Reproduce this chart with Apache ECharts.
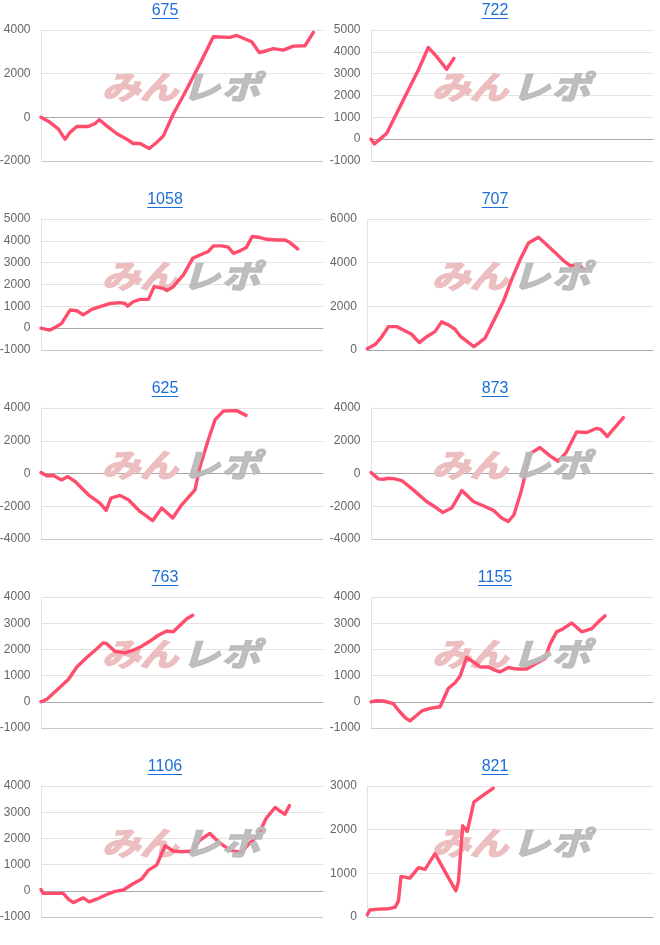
<!DOCTYPE html>
<html>
<head>
<meta charset="utf-8">
<script src="https://cdn.jsdelivr.net/npm/echarts@6.0.0/dist/echarts.min.js"></script>
<style>
html,body{margin:0;padding:0;background:#fff;}
#c{width:660px;height:945px;}
</style>
</head>
<body>
<div id="c"></div>
<script>
// ---- data ----
const xMax = 10000; // game count range of every panel
const titles = ['675','722','1058','707','625','873','763','1155','1106','821'];
const yMin  = [-2000,-1000,-1000,0,-4000,-4000,-1000,-1000,-1000,0];
const yMax  = [4000,5000,5000,6000,4000,4000,4000,4000,4000,3000];
const yStep = [2000,1000,1000,2000,2000,2000,1000,1000,1000,1000];

const d675 = [[0,0],[320,-230],[620,-540],[850,-1000],[1030,-690],[1270,-420],[1680,-420],[1920,-280],[2070,-110],[2330,-390],[2680,-740],[3040,-1000],[3270,-1200],[3510,-1200],[3840,-1430],[4100,-1150],[4340,-850],[4690,150],[5050,1000],[5640,2460],[6110,3690],[6700,3660],[6940,3750],[7470,3460],[7740,2970],[8000,3050],[8240,3150],[8590,3080],[8950,3260],[9360,3280],[9660,3890]];
const d722 = [[0,0],[120,-220],[320,0],[560,270],[730,720],[1030,1490],[1380,2400],[1680,3170],[2030,4200],[2330,3780],[2680,3200],[2940,3700]];
const d1058 = [[0,0],[300,-90],[500,30],[730,220],[1030,830],[1270,800],[1500,610],[1800,860],[2070,980],[2450,1130],[2800,1170],[2980,1130],[3070,1010],[3270,1210],[3510,1320],[3810,1320],[4010,1900],[4340,1820],[4460,1720],[4690,1900],[5050,2440],[5380,3200],[5640,3350],[5930,3510],[6110,3770],[6410,3770],[6640,3710],[6820,3430],[7060,3540],[7290,3710],[7490,4200],[7770,4150],[8000,4070],[8360,4040],[8650,4040],[8830,3920],[9100,3630]];
const d707 = [[0,60],[270,250],[470,540],[740,1070],[1030,1070],[1260,920],[1550,720],[1820,340],[2080,610],[2370,840],[2600,1290],[2840,1150],[3070,950],[3270,610],[3500,380],[3730,160],[3920,340],[4120,540],[4410,1300],[4760,2220],[5050,3220],[5350,4140],[5640,4900],[5990,5160],[6280,4820],[6570,4470],[6860,4100],[7100,3860],[7390,3910],[7590,3680]];
const d625 = [[0,60],[200,-140],[440,-120],[730,-390],[950,-190],[1210,-490],[1680,-1300],[2090,-1810],[2310,-2250],[2480,-1500],[2800,-1340],[3100,-1600],[3510,-2320],[3960,-2880],[4280,-2110],[4670,-2720],[4990,-1910],[5460,-1000],[5640,430],[5930,2050],[6170,3270],[6470,3820],[6940,3840],[7270,3550]];
const d873 = [[0,60],[260,-330],[440,-350],[620,-290],[850,-330],[1090,-430],[1500,-1000],[1970,-1710],[2330,-2110],[2540,-2380],[2860,-2110],[3220,-1040],[3630,-1710],[3980,-1970],[4340,-2250],[4630,-2720],[4870,-2930],[5070,-2520],[5340,-1000],[5640,1200],[5990,1590],[6350,1080],[6640,750],[6920,1280],[7290,2540],[7650,2500],[8000,2760],[8140,2700],[8380,2260],[8590,2700],[8950,3410]];
const d763 = [[0,0],[200,90],[500,380],[970,850],[1270,1330],[1620,1690],[1920,1970],[2210,2250],[2330,2220],[2620,1930],[2980,1870],[3270,1970],[3570,2120],[3870,2320],[4160,2540],[4460,2700],[4690,2670],[4930,2920],[5170,3170],[5380,3300]];
const d1155 = [[0,0],[200,40],[440,30],[790,-70],[970,-320],[1210,-600],[1380,-730],[1560,-570],[1800,-350],[2090,-250],[2450,-190],[2740,510],[2980,730],[3160,980],[3390,1690],[3630,1520],[3870,1330],[4160,1330],[4340,1230],[4570,1140],[4870,1310],[5170,1250],[5520,1250],[5820,1440],[6170,1650],[6350,2200],[6580,2670],[6820,2790],[7120,3010],[7470,2670],[7830,2790],[8060,3050],[8300,3280]];
const d1106 = [[0,50],[80,-100],[790,-100],[970,-320],[1150,-450],[1500,-270],[1710,-420],[1970,-320],[2330,-140],[2620,-20],[2920,30],[3220,240],[3570,450],[3810,790],[4100,980],[4400,1720],[4690,1520],[4990,1490],[5340,1520],[5640,1940],[5990,2190],[6290,1870],[6700,1550],[7120,1460],[7350,1770],[7710,2130],[7980,2760],[8300,3180],[8650,2920],[8810,3250]];
const d821 = [[0,50],[90,160],[390,180],[740,190],[970,220],[1090,370],[1180,930],[1490,890],[1790,1130],[2020,1090],[2370,1450],[2720,1040],[3100,600],[3190,810],[3340,2090],[3500,1960],[3730,2630],[4000,2760],[4410,2950]];
const seriesData = [d675,d722,d1058,d707,d625,d873,d763,d1155,d1106,d821];

// ---- layout / style ----
const LINE = '#ff4d6d';
const TITLE = '#1a6ed8';
const grids=[], xAxes=[], yAxes=[], series=[], graphics=[];
const meas = document.createElement('canvas').getContext('2d');
meas.font = '16px "Liberation Sans", Arial';

for (let i=0;i<10;i++){
  const col=i%2, row=Math.floor(i/2);
  const px=col*330, top=30+189*row;
  const narrow = (yMin[i]===0);
  const left = px + (narrow?37.3:41);
  grids.push({left:left, top:top, width:(px+323)-left, height:131, outerBoundsMode:'none', containLabel:false});
  xAxes.push({gridIndex:i, type:'value', min:0, max:xMax,
    axisLabel:{show:false}, axisTick:{show:false}, splitLine:{show:false},
    axisLine:{show:true, onZero:true, lineStyle:{color:'#a9a9a9', width:1}}});
  const nLines = Math.round((yMax[i]-yMin[i])/yStep[i])+1;
  const cols=['#c8c8c8']; for(let k=1;k<nLines;k++) cols.push('#e2e2e2');
  yAxes.push({gridIndex:i, type:'value', min:yMin[i], max:yMax[i], interval:yStep[i],
    axisLine:{show:true, lineStyle:{color:'#e4e4e4'}}, axisTick:{show:false},
    axisLabel:{fontSize:12, color:'#666', margin:10.5, fontFamily:'"Liberation Sans", Arial',
      formatter:function(v){return String(v);}},
    splitLine:{show:true, lineStyle:{color:cols, width:1}}});
  series.push({type:'line', xAxisIndex:i, yAxisIndex:i, data:seriesData[i],
    symbol:'none', showSymbol:false, lineStyle:{color:LINE, width:3.4, join:'round', cap:'round'},
    itemStyle:{color:LINE}, z:3});
  // title with underline
  const cx = px+165, rowTop = 189*row;
  const w = meas.measureText(titles[i]).width;
  graphics.push({type:'text', x:cx, y:rowTop+11, z:20, style:{text:titles[i], fill:TITLE, font:'16px "Liberation Sans", Arial', textAlign:'center', textVerticalAlign:'middle'}});
  graphics.push({type:'line', z:20, shape:{x1:cx-w/2, y1:rowTop+18.5, x2:cx+w/2, y2:rowTop+18.5}, style:{stroke:TITLE, lineWidth:1}});
  // watermark: pink part under the line, grey part over it
  const wy = top+57;
  const G = 'rgba(186,186,186,0.92)';
  const chars=[['み',121,'#ecbec0',1],['ん',159,'#ecbec0',1],['レ',201,G,30],['ポ',241,G,30]];
  chars.forEach(c=>{
    graphics.push({type:'text', x:px+c[1], y:wy, scaleX:1.2, z:c[3], silent:true,
      style:{text:c[0], fill:c[2], stroke:c[2], lineWidth:1.6, font:'italic bold 32px "Noto Sans CJK JP"', textAlign:'center', textVerticalAlign:'middle'}});
  });
}

const chart = echarts.init(document.getElementById('c'), null, {renderer:'canvas'});
chart.setOption({
  animation:false,
  backgroundColor:'#fff',
  grid:grids, xAxis:xAxes, yAxis:yAxes, series:series,
  graphic:{elements:graphics}
});
</script>
</body>
</html>
